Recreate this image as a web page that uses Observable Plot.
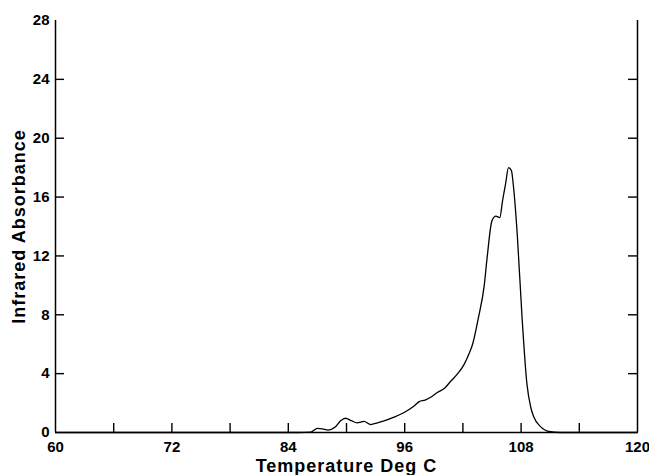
<!DOCTYPE html>
<html>
<head>
<meta charset="utf-8">
<script src="https://cdn.jsdelivr.net/npm/d3@7"></script>
<script src="https://cdn.jsdelivr.net/npm/@observablehq/plot@0.6"></script>
<style>
  html, body { margin: 0; padding: 0; background: #fff; }
</style>
</head>
<body>
<div id="chart"></div>
<script>
// Temperature (deg C) and infrared absorbance
const temps = [60, 70, 80, 85, 86.3, 87.0, 87.5, 88.1, 88.8, 89.4, 89.9, 90.5, 91.1, 91.8, 92.5, 93.2, 93.8, 94.9, 95.9, 96.9, 97.5, 98.1, 98.8, 99.4, 100.1, 100.7, 101.4, 102.1, 102.6, 103.0, 103.6, 104.2, 104.5, 105.0, 105.4, 105.8, 106.1, 106.4, 106.7, 107.0, 107.2, 107.6, 108.1, 108.6, 109.0, 109.3, 110.0, 111.0, 112, 120];
const absorbance = [0, 0, 0, 0, 0.03, 0.28, 0.25, 0.16, 0.35, 0.8, 0.97, 0.8, 0.66, 0.75, 0.54, 0.66, 0.77, 1.04, 1.34, 1.76, 2.1, 2.2, 2.45, 2.73, 3.0, 3.45, 3.95, 4.6, 5.3, 6.0, 7.8, 10.0, 11.9, 14.4, 14.7, 14.6, 15.8, 16.9, 18.0, 17.8, 16.8, 13.5, 7.8, 3.3, 1.7, 1.07, 0.4, 0.05, 0, 0];

const xTicks = [66, 72, 78, 84, 90, 96, 102, 108, 114];
const xTickLabels = [60, 72, 84, 96, 108, 120];
const yTickLabels = [0, 4, 8, 12, 16, 20, 24, 28];
const yTicks = [4, 8, 12, 16, 20, 24];

const xTitle = "Temperature Deg C";
const yTitle = "Infrared Absorbance";

const data = temps.map((t, i) => ({t, a: absorbance[i]}));

const chart = Plot.plot({
  width: 649,
  height: 475,
  marginLeft: 55,
  marginRight: 12,
  marginTop: 20,
  marginBottom: 43,
  style: {fontFamily: "'Liberation Sans', Arial, Helvetica, sans-serif", background: "#fff", color: "#000"},
  x: {domain: [60, 120]},
  y: {domain: [0, 28]},
  marks: [
    // x tick labels
    Plot.axisX({ticks: xTickLabels, tickSize: 0, tickPadding: 9, label: null, fontSize: 15, fontWeight: "bold"}),
    // left tick labels
    Plot.axisY({anchor: "left", ticks: yTickLabels, tickSize: 0, tickPadding: 6, label: null, fontSize: 15, fontWeight: "bold"}),
    // inward ticks: bottom, left, right
    Plot.ruleX(xTicks, {x: d => d, y1: 0, y2: 0, insetTop: -9, stroke: "#000", strokeWidth: 1.4}),
    Plot.ruleY(yTicks, {y: d => d, x1: 60, x2: 60, insetRight: -9, stroke: "#000", strokeWidth: 1.4}),
    Plot.ruleY(yTicks, {y: d => d, x1: 120, x2: 120, insetLeft: -9, stroke: "#000", strokeWidth: 1.4}),
    // axis lines
    Plot.ruleX([60, 120], {stroke: "#000", strokeWidth: 1.5}),
    Plot.ruleY([0], {stroke: "#000", strokeWidth: 1.5}),
    // curve
    Plot.line(data, {x: "t", y: "a", curve: "monotone-x", stroke: "#000", strokeWidth: 1.3}),
    // titles
    Plot.text([xTitle], {frameAnchor: "bottom", dy: 34, fontSize: 18, fontWeight: "bold", textAnchor: "middle", lineAnchor: "middle", fill: "#000"}),
    Plot.text([yTitle], {frameAnchor: "left", dx: -36, rotate: -90, fontSize: 18, fontWeight: "bold", textAnchor: "middle", lineAnchor: "middle", fill: "#000"})
  ]
});
// letter spacing on titles to match the wide-set lettering of the original
chart.querySelectorAll("text").forEach(t => {
  if (t.textContent === xTitle || t.textContent === yTitle) t.setAttribute("letter-spacing", "1");
});
document.getElementById("chart").appendChild(chart);
</script>
</body>
</html>
